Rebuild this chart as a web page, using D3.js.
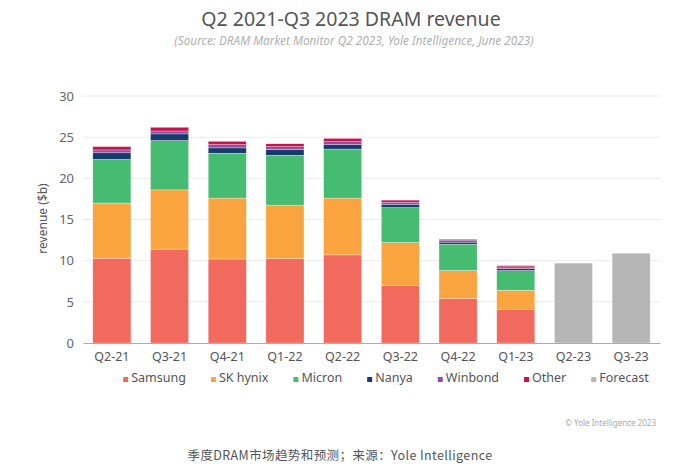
<!DOCTYPE html>
<html>
<head>
<meta charset="utf-8">
<script src="https://cdn.jsdelivr.net/npm/d3@7"></script>
<style>
  body { margin: 0; background: #fff; }
  text { font-family: "Noto Sans", "Open Sans", sans-serif; }
</style>
</head>
<body>
<div id="chart"></div>
<script>
// Data
const quarters = ["Q2-21", "Q3-21", "Q4-21", "Q1-22", "Q2-22", "Q3-22", "Q4-22", "Q1-23", "Q2-23", "Q3-23"];
const samsung  = [10.3, 11.4, 10.2, 10.25, 10.7, 7.0, 5.4, 4.1, 0, 0];
const skhynix  = [6.7, 7.2, 7.4, 6.5, 6.9, 5.2, 3.4, 2.3, 0, 0];
const micron   = [5.3, 6.0, 5.45, 6.05, 5.95, 4.25, 3.2, 2.4, 0, 0];
const nanya    = [0.8, 0.8, 0.65, 0.7, 0.55, 0.4, 0.25, 0.25, 0, 0];
const winbond  = [0.35, 0.35, 0.4, 0.35, 0.35, 0.25, 0.25, 0.2, 0, 0];
const other    = [0.4, 0.45, 0.4, 0.35, 0.4, 0.25, 0.1, 0.15, 0, 0];
const forecast = [0, 0, 0, 0, 0, 0, 0, 0, 9.7, 10.9];
const yTicks = [0, 5, 10, 15, 20, 25, 30];

const seriesNames = ["Samsung", "SK hynix", "Micron", "Nanya", "Winbond", "Other", "Forecast"];
const seriesValues = [samsung, skhynix, micron, nanya, winbond, other, forecast];
const colors = ["#f2695e", "#f9a43f", "#46bb72", "#183a6c", "#8f4e9f", "#c8124f", "#b6b6b7"];

const W = 676, H = 466;
const margin = {top: 96, right: 16, bottom: 123, left: 83},
    width = W - margin.left - margin.right,
    height = H - margin.top - margin.bottom;

const svg = d3.select("#chart").append("svg")
    .attr("width", W)
    .attr("height", H);

// Titles
svg.append("text")
    .attr("x", 351).attr("y", 26)
    .attr("text-anchor", "middle")
    .style("font-size", "19.5px")
    .style("fill", "#555")
    .text("Q2 2021-Q3 2023 DRAM revenue");

svg.append("text")
    .attr("x", 354).attr("y", 45)
    .attr("text-anchor", "middle")
    .style("font-size", "11.8px")
    .style("font-style", "italic")
    .style("fill", "#b0b0b0")
    .text("(Source: DRAM Market Monitor Q2 2023, Yole Intelligence, June 2023)");

const g = svg.append("g")
    .attr("transform", "translate(" + margin.left + "," + margin.top + ")");

// Scales
const x = d3.scaleBand()
    .domain(quarters)
    .range([0, width])
    .paddingInner(0.34)
    .paddingOuter(0.17);

const y = d3.scaleLinear()
    .domain([0, 30])
    .range([height, 0]);

// Grid lines
g.selectAll(".grid")
    .data(yTicks.filter(d => d > 0))
  .enter().append("line")
    .attr("x1", 0).attr("x2", width)
    .attr("y1", d => y(d)).attr("y2", d => y(d))
    .style("stroke", "#e9ebee")
    .style("stroke-width", 1);

// Stacked data
const table = quarters.map((q, i) => {
    const row = {quarter: q};
    seriesNames.forEach((s, j) => row[s] = seriesValues[j][i]);
    return row;
});
const stack = d3.stack().keys(seriesNames)(table);

g.selectAll(".layer")
    .data(stack)
  .enter().append("g")
    .attr("class", "layer")
    .style("fill", (d, i) => colors[i])
  .selectAll("rect")
    .data(d => d.filter(p => p[1] - p[0] > 0))
  .enter().append("rect")
    .attr("x", d => x(d.data.quarter))
    .attr("width", x.bandwidth())
    .attr("y", d => y(d[1]))
    .attr("height", d => y(d[0]) - y(d[1]))
    .style("stroke", "#fff")
    .style("stroke-opacity", 0.6)
    .style("stroke-width", 0.5);

// Axes
const yAxis = g.append("g")
    .call(d3.axisLeft(y).tickValues(yTicks).tickSize(0).tickPadding(9));
yAxis.select(".domain").remove();
yAxis.selectAll("text")
    .style("font-size", "13px")
    .style("fill", "#666")
    .style("font-family", "Noto Sans, sans-serif");

const xAxis = g.append("g")
    .attr("transform", "translate(0," + height + ")")
    .call(d3.axisBottom(x).tickSize(0).tickPadding(9));
xAxis.select(".domain").style("stroke", "#a8adb3");
xAxis.selectAll("text")
    .style("font-size", "12.5px")
    .style("fill", "#555")
    .style("font-family", "Noto Sans, sans-serif");

// Y axis label
svg.append("text")
    .attr("transform", "translate(47," + (margin.top + height / 2 - 1) + ") rotate(-90)")
    .attr("text-anchor", "middle")
    .style("font-size", "12px")
    .style("fill", "#555")
    .text("revenue ($b)");

// Legend
const legend = svg.append("g");
const items = legend.selectAll(".legend")
    .data(seriesNames)
  .enter().append("g")
    .attr("class", "legend");
items.append("rect")
    .attr("width", 5).attr("height", 5)
    .attr("y", -5)
    .style("fill", (d, i) => colors[i]);
items.append("text")
    .attr("x", 8)
    .attr("y", 0)
    .style("font-size", "12.5px")
    .style("fill", "#555")
    .text(d => d);

let offset = 0;
items.each(function() {
    const w = d3.select(this).select("text").node().getComputedTextLength();
    d3.select(this).attr("transform", "translate(" + offset + ",0)");
    offset += 8 + w + 25;
});
const legendWidth = offset - 25;
legend.attr("transform", "translate(" + (386 - legendWidth / 2) + ",382)");

// Copyright
svg.append("text")
    .attr("x", 656).attr("y", 426)
    .attr("text-anchor", "end")
    .style("font-size", "8px")
    .style("fill", "#aaa")
    .text("© Yole Intelligence 2023");

// Caption
svg.append("text")
    .attr("x", 340).attr("y", 460)
    .attr("text-anchor", "middle")
    .style("font-family", "'Noto Sans CJK SC', sans-serif")
    .style("font-size", "12.5px")
    .style("letter-spacing", "0.4px")
    .style("fill", "#555")
    .text("季度DRAM市场趋势和预测；来源：Yole Intelligence");
</script>
</body>
</html>
